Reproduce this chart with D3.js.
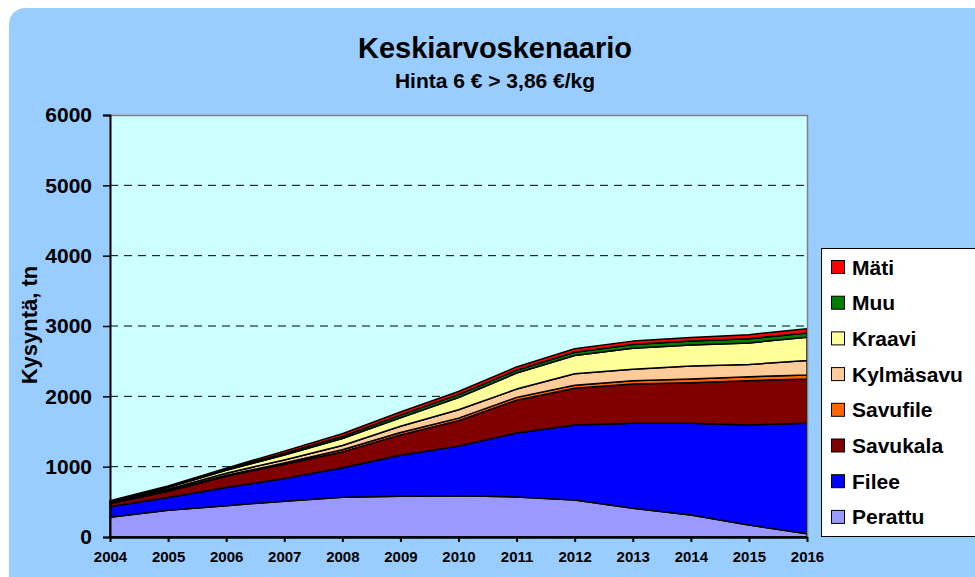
<!DOCTYPE html>
<html>
<head>
<meta charset="utf-8">
<script src="https://cdn.jsdelivr.net/npm/d3@7"></script>
<style>
  html, body { margin: 0; padding: 0; background: #fff; }
  svg { display: block; font-family: "Liberation Sans", Arial, sans-serif; }
</style>
</head>
<body>
<svg id="chart" width="975" height="577"></svg>
<script>
// years on the x axis
const years = [2004, 2005, 2006, 2007, 2008, 2009, 2010, 2011, 2012, 2013, 2014, 2015, 2016];

// demand per product group, tn
const perattu   = [280, 380, 445, 510, 565, 578, 585, 570, 525, 408, 313, 171, 45];
const filee     = [150, 180, 260, 320, 420, 583, 707, 910, 1068, 1208, 1303, 1422, 1571];
const savukala  = [45, 90, 160, 203, 225, 290, 360, 465, 521, 559, 578, 630, 631];
const savufile  = [5, 8, 12, 18, 30, 36, 38, 40, 45, 48, 52, 55, 58];
const kylmasavu = [10, 20, 30, 45, 60, 88, 119, 118, 161, 161, 184, 175, 204];
const kraavi    = [10, 25, 40, 70, 100, 120, 175, 228, 261, 299, 299, 307, 332];
const muu       = [5, 8, 12, 25, 30, 38, 40, 40, 47, 55, 57, 60, 60];
const mati      = [10, 15, 20, 30, 38, 45, 45, 47, 48, 47, 52, 57, 61];

// series, bottom to top
const seriesNames = ['Perattu', 'Filee', 'Savukala', 'Savufile', 'Kylmäsavu', 'Kraavi', 'Muu', 'Mäti'];
const seriesValues = [perattu, filee, savukala, savufile, kylmasavu, kraavi, muu, mati];
const seriesColors = ['#9999FF', '#0000FF', '#800000', '#FF6600', '#FFCC99', '#FFFF99', '#008000', '#FF0000'];

const yTicks = [0, 1000, 2000, 3000, 4000, 5000, 6000];

const svg = d3.select('#chart');

// outer rounded panel
svg.append('rect')
  .attr('x', 9).attr('y', 8)
  .attr('width', 990).attr('height', 600)
  .attr('rx', 16).attr('ry', 16)
  .attr('fill', '#99CCFF');

// titles
svg.append('text')
  .attr('x', 495).attr('y', 58)
  .attr('text-anchor', 'middle')
  .attr('font-size', 29).attr('font-weight', 'bold')
  .text('Keskiarvoskenaario');

svg.append('text')
  .attr('x', 495).attr('y', 88)
  .attr('text-anchor', 'middle')
  .attr('font-size', 21).attr('font-weight', 'bold')
  .text('Hinta 6 € > 3,86 €/kg');

// scales
const x = d3.scaleLinear().domain([2004, 2016]).range([110, 807]);
const y = d3.scaleLinear().domain([0, 6000]).range([537, 115]);

// plot area
svg.append('rect')
  .attr('x', x(2004)).attr('y', y(6000))
  .attr('width', x(2016) - x(2004)).attr('height', y(0) - y(6000))
  .attr('fill', '#CCFFFF');

// dashed gridlines
svg.append('g')
  .selectAll('line')
  .data(yTicks.filter(d => d > 0 && d < 6000))
  .enter()
  .append('line')
  .attr('x1', x(2004)).attr('x2', x(2016))
  .attr('y1', d => y(d)).attr('y2', d => y(d))
  .attr('stroke', '#000')
  .attr('stroke-width', 1)
  .attr('stroke-dasharray', '8,6');

// stacked areas
const table = years.map((yr, i) => {
  const row = { year: yr };
  seriesNames.forEach((name, k) => { row[name] = seriesValues[k][i]; });
  return row;
});

const stacked = d3.stack().keys(seriesNames)(table);

const area = d3.area()
  .x(d => x(d.data.year))
  .y0(d => y(d[0]))
  .y1(d => y(d[1]));

svg.append('g')
  .selectAll('path')
  .data(stacked)
  .enter()
  .append('path')
  .attr('d', area)
  .attr('fill', (d, i) => seriesColors[i])
  .attr('stroke', '#000')
  .attr('stroke-width', 1.5)
  .attr('stroke-linejoin', 'round');

// gray border on top and right
svg.append('path')
  .attr('d', `M${x(2004)},${y(6000) + 0.5}H${x(2016) + 0.5}V${y(0)}`)
  .attr('fill', 'none')
  .attr('stroke', '#808080')
  .attr('stroke-width', 1.5);

// y axis
const yAxis = d3.axisLeft(y)
  .tickValues(yTicks)
  .tickSize(7)
  .tickPadding(11)
  .tickFormat(d3.format('d'));

const gy = svg.append('g')
  .attr('transform', `translate(${x(2004)},0)`)
  .call(yAxis);
gy.select('.domain').attr('stroke', '#000').attr('stroke-width', 2);
gy.selectAll('.tick line').attr('stroke', '#000').attr('stroke-width', 1.5);
gy.selectAll('.tick text')
  .attr('font-size', 21).attr('font-weight', 'bold')
  .attr('font-family', '"Liberation Sans", Arial, sans-serif')
  .attr('fill', '#000');

// x axis
const xAxis = d3.axisBottom(x)
  .tickValues(years)
  .tickSize(5)
  .tickSizeOuter(0)
  .tickPadding(9)
  .tickFormat(d3.format('d'));

const gx = svg.append('g')
  .attr('transform', `translate(0,${y(0)})`)
  .call(xAxis);
gx.select('.domain').attr('stroke', '#000').attr('stroke-width', 2.5);
gx.selectAll('.tick line').attr('stroke', '#000').attr('stroke-width', 2);
gx.selectAll('.tick text')
  .attr('font-size', 15).attr('font-weight', 'bold')
  .attr('font-family', '"Liberation Sans", Arial, sans-serif')
  .attr('fill', '#000');

// y axis title
svg.append('text')
  .attr('transform', 'translate(37,325) rotate(-90)')
  .attr('text-anchor', 'middle')
  .attr('font-size', 22).attr('font-weight', 'bold')
  .text('Kysyntä, tn');

// legend (top to bottom reversed from stack)
const legend = svg.append('g');
legend.append('rect')
  .attr('x', 821.5).attr('y', 248.5)
  .attr('width', 170).attr('height', 288)
  .attr('fill', '#fff')
  .attr('stroke', '#000')
  .attr('stroke-width', 1);

const legendOrder = d3.range(seriesNames.length).reverse();
const item = legend.selectAll('g.item')
  .data(legendOrder)
  .enter()
  .append('g')
  .attr('class', 'item')
  .attr('transform', (d, i) => `translate(0,${267 + i * 35.7})`);

item.append('rect')
  .attr('x', 831.5).attr('y', -6.5)
  .attr('width', 13).attr('height', 13)
  .attr('fill', d => seriesColors[d])
  .attr('stroke', '#000')
  .attr('stroke-width', 1);

item.append('text')
  .attr('x', 852).attr('y', 7.5)
  .attr('font-size', 21).attr('font-weight', 'bold')
  .text(d => seriesNames[d]);
</script>
</body>
</html>
